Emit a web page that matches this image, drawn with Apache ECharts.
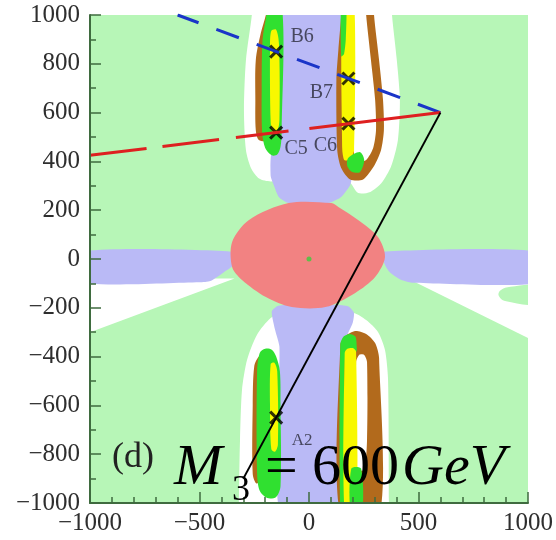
<!DOCTYPE html>
<html>
<head>
<meta charset="utf-8">
<script src="https://cdn.jsdelivr.net/npm/echarts/dist/echarts.min.js"></script>
<style>html,body{margin:0;padding:0;background:#fff}#c{width:556px;height:540px}</style>
</head>
<body>
<div id="c"></div>
<script>
// ---------- region outlines (data coordinates) ----------
const plotArea = [[-1050,-1050],[1050,-1050],[1050,1050],[-1050,1050]];
const whiteUpper = [[-261,1050],[-261,1000],[-288,815],[-297,611],[-288,447],[-265,373],[-228,330],[-175,318],[0,330],[180,318],[225,270],[280,275],[330,310],[375,380],[406,488],[415,652],[401,815],[379,1000],[379,1050]];
const whiteLower = [[-320,-1050],[-320,-1000],[-315,-742],[-306,-537],[-283,-414],[-238,-311],[-175,-242],[-116,-217],[202,-221],[261,-250],[315,-299],[347,-373],[361,-496],[365,-1000],[365,-1050]];
const whiteLeft = [[-1050,-80],[-340,-80],[-1000,-300],[-1050,-300]];
const whiteRight = [[451,-80],[1050,-80],[1050,-330],[1000,-324]];
const greenBlobRight = [[1050,-112],[920,-114],[875,-128],[866,-150],[895,-172],[1050,-182]];
const lavLeft = [[-1050,29],[-340,29],[-345,-25],[-390,-55],[-450,-90],[-500,-95],[-1050,-95]];
const lavRight = [[335,29],[1050,29],[1050,-97],[470,-97],[420,-85],[370,-55],[345,-20]];
const lavUpper = [[-130,1050],[150,1050],[150,450],[197,380],[197,344],[188,303],[147,254],[88,229],[-93,229],[-138,254],[-161,303],[-175,340],[-172,430],[-130,480]];
const lavLower = [[-170,-215],[-140,-192],[-60,-188],[120,-188],[180,-195],[205,-220],[200,-260],[170,-320],[150,-360],[150,-1050],[-130,-1050],[-135,-360],[-155,-290]];
const redCore = [[-93,229],[-274,160],[-351,70],[-351,-33],[-306,-86],[-197,-156],[-79,-197],[75,-197],[211,-139],[302,-74],[347,8],[315,90],[224,160],[134,213],[102,229]];
// upper-left band cluster
const ulBrown = [[-190,1050],[-197,1000],[-220,926],[-243,815],[-245,650],[-243,529],[-229,488],[-190,488]];
const ulGreen = [[-195,1050],[-195,1000],[-212,900],[-216,700],[-214,520],[-200,455],[-170,425],[-145,428],[-130,460],[-125,520],[-125,1050]];
const ulYellow = [[-172,935],[-150,940],[-137,880],[-135,570],[-145,525],[-165,520],[-175,560],[-178,870]];
// upper-right band cluster
const urBrown = [[147,1050],[300,1050],[297,1000],[320,815],[338,652],[342,529],[329,447],[297,381],[247,326],[188,326],[147,373],[129,447],[125,734],[134,856],[147,1000]];
const urWhite = [[206,1050],[261,1050],[261,1000],[283,815],[302,652],[306,529],[293,455],[261,406],[224,398],[206,426]];
const urYellow = [[152,1050],[206,1050],[206,447],[188,406],[161,406],[152,447]];
const urGreenTop = [[147,1050],[170,1050],[168,900],[160,840],[147,830]];
const urGreenBottom = [[179,414],[233,438],[252,406],[233,357],[197,357],[175,380]];
// lower-left band cluster
const llBrown = [[-228,-400],[-250,-440],[-257,-600],[-257,-880],[-240,-920],[-215,-900],[-215,-420]];
const llGreen = [[-225,-385],[-200,-368],[-170,-372],[-150,-400],[-133,-460],[-130,-600],[-130,-930],[-150,-975],[-190,-980],[-225,-950],[-237,-880],[-237,-460]];
const llYellow = [[-175,-430],[-158,-425],[-145,-460],[-142,-760],[-155,-790],[-172,-780],[-178,-600]];
// lower-right band cluster
const lrBrown = [[143,-1050],[143,-352],[166,-316],[211,-295],[261,-307],[302,-344],[320,-406],[322,-1050]];
const lrWhite = [[215,-1050],[215,-422],[229,-393],[252,-393],[265,-422],[265,-742],[252,-865],[224,-865],[215,-840]];
const lrGreen = [[143,-1050],[143,-350],[158,-318],[185,-307],[212,-318],[218,-360],[215,-380],[166,-380],[166,-1050]];
const lrYellow = [[163,-1050],[163,-385],[175,-368],[200,-365],[215,-380],[215,-1050]];
const lrGreenPatch = [[193,-860],[238,-860],[240,-1050],[193,-1050]];

// ---------- lines, points ----------
const centerPoint = [[0, 0]];
const blueLine = [[600,600],[-600,1000]];
const redLine = [[600,600],[-1000,425]];
const blackLine = [[600,600],[-300,-900]];
const benchNames = ['B6','B7','C5','C6','A2'];
const benchX = [-150, 180, -150, 180, -150];
const benchY = [850, 740, 518, 555, -650];

// ---------- styles ----------
const C = {
  lightGreen: '#b7f6b7', lavender: '#babaf6', salmon: '#f28282',
  green: '#30e030', yellow: '#f8f800', brown: '#b26a1c', white: '#ffffff'
};
const layers = [
  [plotArea, C.lightGreen, 0],
  [whiteUpper, C.white, 0.25],
  [whiteLower, C.white, 0.25],
  [whiteLeft, C.white, 0],
  [whiteRight, C.white, 0],
  [greenBlobRight, C.lightGreen, 0.4],
  [lavLeft, C.lavender, 0.2],
  [lavRight, C.lavender, 0.2],
  [lavUpper, C.lavender, 0.2],
  [lavLower, C.lavender, 0.2],
  [redCore, C.salmon, 0.3],
  [ulBrown, C.brown, 0.3],
  [ulGreen, C.green, 0.3],
  [ulYellow, C.yellow, 0.3],
  [urBrown, C.brown, 0.25],
  [urWhite, C.white, 0.25],
  [urYellow, C.yellow, 0.2],
  [urGreenTop, C.green, 0.2],
  [urGreenBottom, C.green, 0.3],
  [llBrown, C.brown, 0.3],
  [llGreen, C.green, 0.3],
  [llYellow, C.yellow, 0.3],
  [lrBrown, C.brown, 0.25],
  [lrWhite, C.white, 0.25],
  [lrGreen, C.green, 0.25],
  [lrYellow, C.yellow, 0.25],
  [lrGreenPatch, C.green, 0.3]
];
const labelOffsets = {B6:[26,-15], B7:[-27,14], C5:[20,16], C6:[-23,22], A2:[26,23]};
const serif = "Liberation Serif";

function regionSeries(pts, color, smooth) {
  return {
    type: 'custom', coordinateSystem: 'cartesian2d', silent: true, clip: true,
    data: [[0, 0]],
    renderItem: function (params, api) {
      return { type: 'polygon', shape: { points: pts.map(p => api.coord(p)), smooth: smooth },
               style: { fill: color, stroke: null } };
    }
  };
}

const series = layers.map(l => regionSeries(l[0], l[1], l[2]));
series.push({ type: 'scatter', data: centerPoint, symbolSize: 5, itemStyle: { color: '#3ccc3c' }, silent: true });
series.push({ type: 'line', data: blueLine, showSymbol: false, silent: true,
  lineStyle: { color: '#1a35c8', width: 3, type: [24, 19] } });
series.push({ type: 'line', data: redLine, showSymbol: false, silent: true,
  lineStyle: { color: '#de2020', width: 3, type: [132, 21, 53, 17, 57, 16, 57, 17, 60, 20] } });
series.push({ type: 'line', data: blackLine, showSymbol: false, silent: true,
  lineStyle: { color: '#000', width: 2 } });
series.push({
  type: 'scatter', silent: true,
  symbol: 'path://M0,0L10,10M10,0L0,10', symbolSize: 12,
  itemStyle: { color: 'none', borderColor: '#000', borderWidth: 3 },
  data: benchNames.map((n, i) => ({
    name: n, value: [benchX[i], benchY[i]],
    label: { show: true, formatter: n, position: 'inside', offset: labelOffsets[n],
             fontFamily: serif, fontSize: n === 'A2' ? 17 : 20, color: '#2a2a3a' }
  }))
});

const minus = v => String(v).replace('-', '\u2212');
const axisCommon = {
  type: 'value', min: -1000, max: 1000, z: 10,
  axisLine: { show: true, onZero: false, lineStyle: { color: '#3f6b3f', width: 2 } },
  axisTick: { show: true, inside: true, length: 11, lineStyle: { color: '#3f6b3f', width: 1.5 } },
  minorTick: { show: true, length: 6, lineStyle: { color: '#3f6b3f', width: 1.5 } },
  splitLine: { show: false }, minorSplitLine: { show: false },
  axisLabel: { fontFamily: serif, fontSize: 25, color: '#2e2e2e', formatter: minus }
};

const chart = echarts.init(document.getElementById('c'), null, { renderer: 'canvas' });
chart.setOption({
  animation: false,
  backgroundColor: '#fff',
  textStyle: { fontFamily: serif },
  grid: { left: 90, right: 25, top: 15, bottom: 37, containLabel: false },
  xAxis: Object.assign({}, axisCommon, { interval: 500,
    minorTick: Object.assign({}, axisCommon.minorTick, { splitNumber: 5 }),
    axisLabel: Object.assign({}, axisCommon.axisLabel, { margin: 8 }) }),
  yAxis: Object.assign({}, axisCommon, { interval: 200,
    minorTick: Object.assign({}, axisCommon.minorTick, { splitNumber: 2 }),
    axisLabel: Object.assign({}, axisCommon.axisLabel, { margin: 10 }) }),
  graphic: [
    { type: 'text', left: 112, top: 440, z: 100, style: { text: '(d)', font: '36px ' + serif, fill: '#222' } },
    { type: 'text', x: 174, y: 469, z: 100, style: { text: 'M', font: 'italic 58px ' + serif, fill: '#000', verticalAlign: 'middle' } },
    { type: 'text', x: 232, y: 491, z: 100, style: { text: '3', font: '36px ' + serif, fill: '#000', verticalAlign: 'middle' } },
    { type: 'text', x: 265, y: 469, z: 100, style: { text: '=', font: '58px ' + serif, fill: '#000', verticalAlign: 'middle' } },
    { type: 'text', x: 312, y: 469, z: 100, style: { text: '600', font: '58px ' + serif, fill: '#000', verticalAlign: 'middle' } },
    { type: 'text', x: 402, y: 469, z: 100, style: { text: 'GeV', font: 'italic 58px ' + serif, fill: '#000', verticalAlign: 'middle' } }
  ],
  series: series
});
</script>
</body>
</html>
